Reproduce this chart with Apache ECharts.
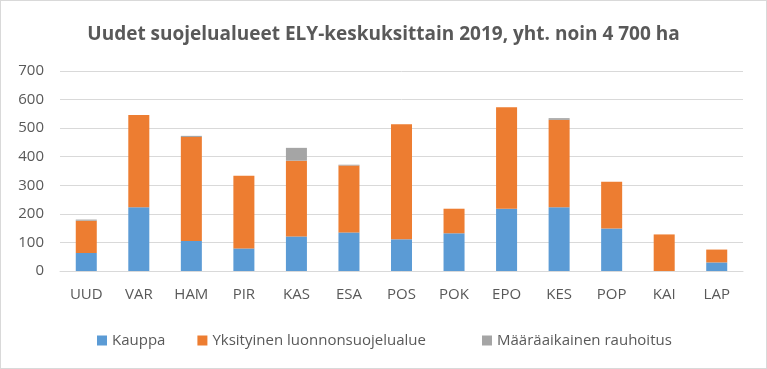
<!DOCTYPE html>
<html><head><meta charset="utf-8">
<script src="https://cdn.jsdelivr.net/npm/echarts@6/dist/echarts.min.js"></script>
<style>html,body{margin:0;padding:0;background:#fff}#c{width:767px;height:369px;box-sizing:border-box;border:1px solid #d9d9d9}</style>
</head><body><div id="c"></div>
<script>
const categories = ['UUD','VAR','HAM','PIR','KAS','ESA','POS','POK','EPO','KES','POP','KAI','LAP'];
const kauppa = [63,223,105,79,121,135,111,132,218,223,149,0,30];
const yksityinen = [113,323,364,254,265,234,403,86,355,306,163,128,45];
const maaraaikainen = [4,0,4,0,45,3,0,0,0,6,0,0,0];
const yTicks = [0,100,200,300,400,500,600,700];
const seriesNames = ['Kauppa','Yksityinen luonnonsuojelualue','Määräaikainen rauhoitus'];
const titleText = 'Uudet suojelualueet ELY-keskuksittain 2019, yht. noin 4 700 ha';

const chart = echarts.init(document.getElementById('c'));
const font = 'Open Sans';
const legendBase = {top:327,itemWidth:10,itemHeight:10,icon:'rect',
  textStyle:{fontFamily:font,fontSize:15,color:'#595959'}};
chart.setOption({
  animation:false,
  title:{text:titleText,left:'center',top:19,textStyle:{fontFamily:font,fontSize:19,fontWeight:'bold',color:'#595959'}},
  grid:{left:59,right:23,top:70,bottom:97},
  legend:[
    Object.assign({left:91,itemGap:32,data:seriesNames.slice(0,2)},legendBase),
    Object.assign({left:476,data:seriesNames.slice(2)},legendBase)
  ],
  xAxis:{type:'category',data:categories,axisTick:{show:false},
    axisLine:{lineStyle:{color:'#d9d9d9'}},
    axisLabel:{fontFamily:font,fontSize:15,color:'#595959',margin:16}},
  yAxis:{type:'value',min:yTicks[0],max:yTicks[yTicks.length-1],interval:100,
    axisLabel:{fontFamily:font,fontSize:15,color:'#595959',margin:16},
    splitLine:{lineStyle:{color:'#d9d9d9'}}},
  series:[
    {name:seriesNames[0],type:'bar',stack:'a',data:kauppa,barWidth:'40%',itemStyle:{color:'#5b9bd5'}},
    {name:seriesNames[1],type:'bar',stack:'a',data:yksityinen,itemStyle:{color:'#ed7d31'}},
    {name:seriesNames[2],type:'bar',stack:'a',data:maaraaikainen,itemStyle:{color:'#a5a5a5'}}
  ]
});
</script></body></html>
